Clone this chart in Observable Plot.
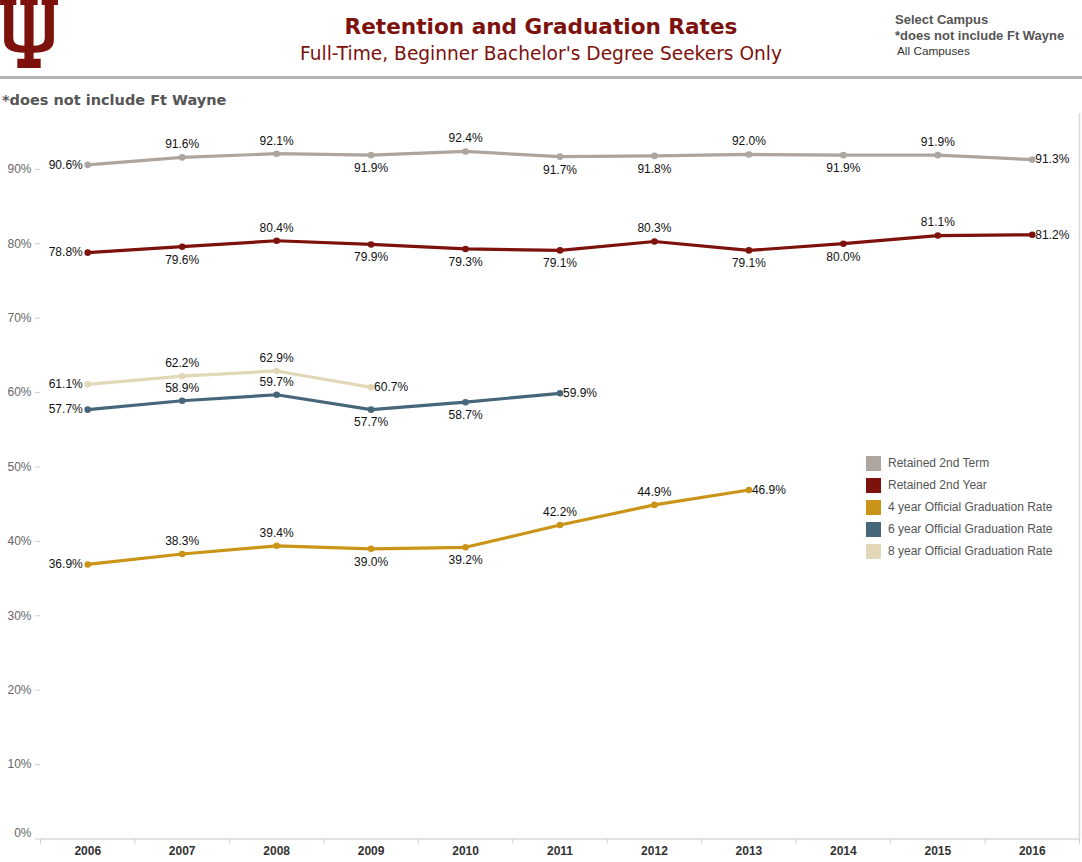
<!DOCTYPE html>
<html>
<head>
<meta charset="utf-8">
<script src="https://cdn.jsdelivr.net/npm/d3@7"></script>
<script src="https://cdn.jsdelivr.net/npm/@observablehq/plot@0.6"></script>
<style>
  html, body { margin: 0; padding: 0; background: #fff; }
  body { width: 1082px; height: 862px; position: relative; overflow: hidden; font-family: "Liberation Sans", Arial, sans-serif; }
  .abs { position: absolute; }
  #title { left: 0; width: 1082px; top: 12px; text-align: center; font-family: "DejaVu Sans", Tahoma, sans-serif; font-weight: bold; font-size: 21.6px; color: #7d110c; line-height: 30px; }
  #subtitle { left: 0; width: 1082px; top: 42px; text-align: center; font-family: "DejaVu Sans", Tahoma, sans-serif; font-size: 18.6px; color: #7d110c; line-height: 24px; }
  #sep { left: 0; top: 76px; width: 1082px; height: 3px; background: #b4b4b4; }
  #note { left: 2px; top: 90px; font-family: "DejaVu Sans", Tahoma, sans-serif; font-weight: bold; font-size: 14.5px; color: #555; line-height: 20px; }
  #campus { left: 895px; top: 12px; font-size: 13px; color: #555; line-height: 16px; }
  #campus .b { font-weight: bold; }
  #campus .s { font-size: 11.8px; color: #333; padding-left: 2px; line-height: 14px; }
  #legend { left: 866px; top: 452px; font-size: 12px; color: #555; }
  #legend .row { height: 22px; display: flex; align-items: center; }
  #legend .sw { width: 15px; height: 15px; margin-right: 7px; }
  #chart { left: 0; top: 105px; }
</style>
</head>
<body>
<svg class="abs" style="left:0;top:0" width="58" height="68" viewBox="0 0 57 67">
  <path fill="#7d110c" d="M0,0 H16 V5 H13 V38 Q13,45 24,45 V5 H20 V0 H37 V5 H33 V45 Q44,45 44,38 V5 H41 V0 H57 V5 H53 V40 Q53,52 33,52 V58 H40 V67 H17 V58 H24 V52 Q4,52 4,40 V5 H0 Z"/>
</svg>
<div id="title" class="abs">Retention and Graduation Rates</div>
<div id="subtitle" class="abs">Full-Time, Beginner Bachelor's Degree Seekers Only</div>
<div id="campus" class="abs"><div class="b">Select Campus</div><div class="b">*does not include Ft Wayne</div><div class="s">All Campuses</div></div>
<div id="sep" class="abs"></div>
<div id="note" class="abs">*does not include Ft Wayne</div>
<div id="chart" class="abs"></div>
<div id="legend" class="abs"></div>
<script>
// ---- Data ----
const years = [2006, 2007, 2008, 2009, 2010, 2011, 2012, 2013, 2014, 2015, 2016];
const seriesNames = ["Retained 2nd Term", "Retained 2nd Year", "4 year Official Graduation Rate", "6 year Official Graduation Rate", "8 year Official Graduation Rate"];
const seriesColors = ["#ada59e", "#7d110c", "#c99418", "#466779", "#e2d8b8"];
const retained2ndTerm = [90.6, 91.6, 92.1, 91.9, 92.4, 91.7, 91.8, 92.0, 91.9, 91.9, 91.3];
const retained2ndYear = [78.8, 79.6, 80.4, 79.9, 79.3, 79.1, 80.3, 79.1, 80.0, 81.1, 81.2];
const grad4yr = [36.9, 38.3, 39.4, 39.0, 39.2, 42.2, 44.9, 46.9];
const grad6yr = [57.7, 58.9, 59.7, 57.7, 58.7, 59.9];
const grad8yr = [61.1, 62.2, 62.9, 60.7];
// label placement relative to each point
const pos2ndTerm = ["left", "above", "above", "below", "above", "below", "below", "above", "below", "above", "right"];
const pos2ndYear = ["left", "below", "above", "below", "below", "below", "above", "below", "below", "above", "right"];
const pos4yr = ["left", "above", "above", "below", "below", "above", "above", "right"];
const pos6yr = ["left", "above", "above", "below", "below", "right"];
const pos8yr = ["left", "above", "above", "right"];
const yTicks = [10, 20, 30, 40, 50, 60, 70, 80, 90];
const yZeroTick = [0];

const allValues = [retained2ndTerm, retained2ndYear, grad4yr, grad6yr, grad8yr];
const allPos = [pos2ndTerm, pos2ndYear, pos4yr, pos6yr, pos8yr];
const rows = [];
allValues.forEach((vals, si) => vals.forEach((v, i) => rows.push({series: seriesNames[si], year: years[i], value: v, pos: allPos[si][i]})));
const bounds = years.map(y => y - 0.5).concat([years[years.length - 1] + 0.5]);

const lbl = (pos, extra) => Plot.text(rows.filter(d => d.pos === pos), Object.assign({
  x: "year", y: "value", text: d => d.value.toFixed(1) + "%", fill: "#111", fontSize: 12
}, extra));

const chart = Plot.plot({
  width: 1082,
  height: 757,
  marginLeft: 40,
  marginRight: 3,
  marginTop: 8,
  marginBottom: 23.5,
  style: {fontFamily: "'Liberation Sans', Arial, sans-serif", fontSize: "12px", background: "transparent"},
  x: {domain: [bounds[0], bounds[bounds.length - 1]], axis: null, label: null},
  y: {domain: [0, 97.5], axis: null, label: null},
  color: {domain: seriesNames, range: seriesColors},
  marks: [
    Plot.ruleY([0], {stroke: "#d9d9d9", strokeWidth: 1.5}),
    Plot.ruleX([bounds[bounds.length - 1]], {stroke: "#d9d9d9", strokeWidth: 1.5}),
    Plot.axisX({ticks: bounds, tickSize: 5, tickFormat: () => "", stroke: "#cfcfcf", label: null}),
    Plot.axisX({ticks: years, tickSize: 0, tickPadding: 7, tickFormat: d => String(d), fill: "#333", fontWeight: "bold", label: null}),
    Plot.axisY({ticks: yTicks, tickSize: 5, tickPadding: 4, tickFormat: d => d + "%", stroke: "#cfcfcf", fill: "#666", label: null}),
    Plot.axisY({ticks: yZeroTick, tickSize: 5, tickPadding: 4, tickFormat: () => "", stroke: "#cfcfcf", label: null}),
    Plot.axisY({ticks: yZeroTick, tickSize: 5, tickPadding: 4, tickFormat: d => d + "%", stroke: "none", fill: "#666", dy: -6, label: null}),
    Plot.line(rows, {x: "year", y: "value", z: "series", stroke: "series", strokeWidth: 3.2}),
    Plot.dot(rows, {x: "year", y: "value", fill: "series", r: 3.3}),
    lbl("left", {textAnchor: "end", dx: -5}),
    lbl("right", {textAnchor: "start", dx: 3}),
    lbl("above", {dy: -13}),
    lbl("below", {dy: 13})
  ]
});
document.getElementById("chart").appendChild(chart);

const legend = document.getElementById("legend");
seriesNames.forEach((n, i) => {
  const r = document.createElement("div");
  r.className = "row";
  r.innerHTML = `<div class="sw" style="background:${seriesColors[i]}"></div><div>${n}</div>`;
  legend.appendChild(r);
});
</script>
</body>
</html>
